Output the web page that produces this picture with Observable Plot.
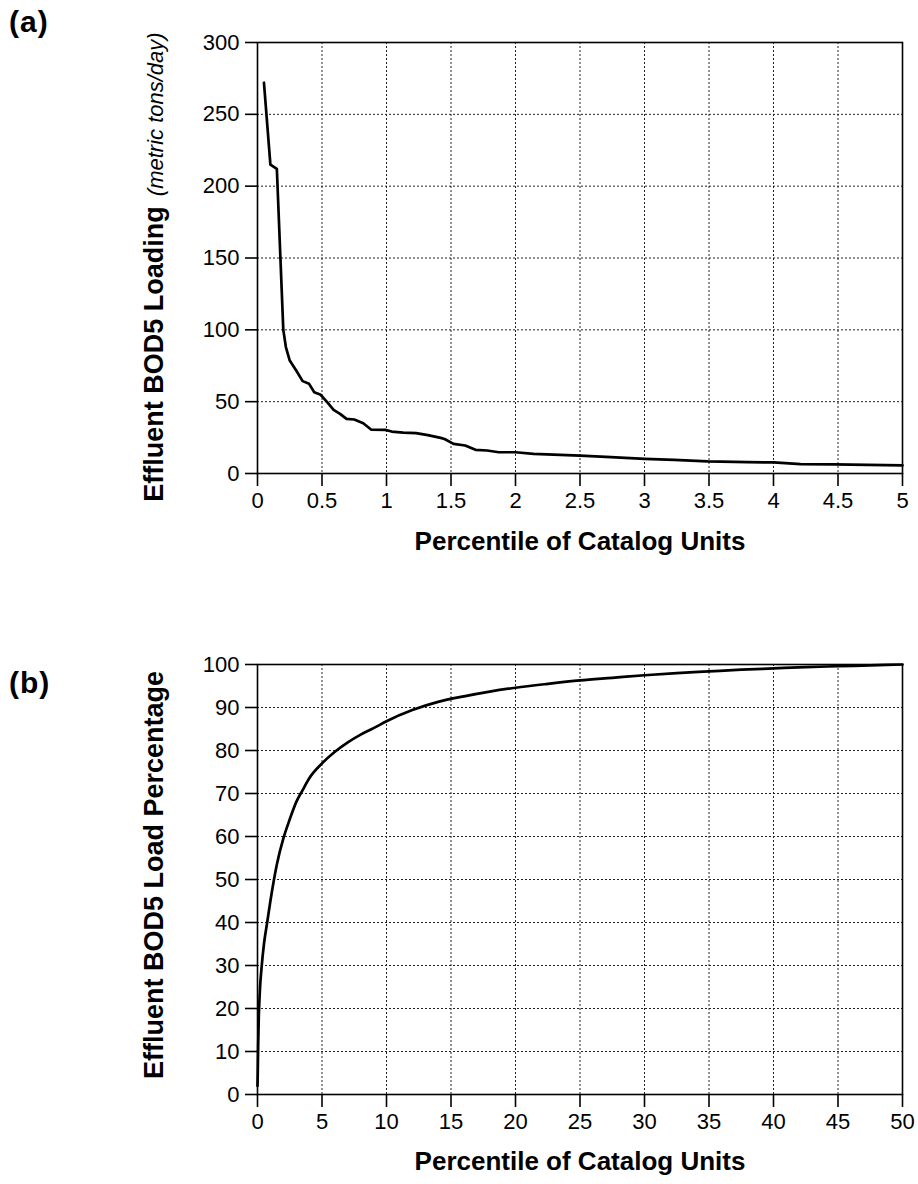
<!DOCTYPE html>
<html>
<head>
<meta charset="utf-8">
<script src="https://cdn.jsdelivr.net/npm/d3@7"></script>
<script src="https://cdn.jsdelivr.net/npm/@observablehq/plot@0.6"></script>
<style>
  html, body { margin: 0; padding: 0; background: #fff; }
  #wrap { width: 918px; height: 1184px; position: relative; overflow: hidden; }
  svg { display: block; }
</style>
</head>
<body>
<div id="wrap"></div>
<script>
// ---------- Panel (a): effluent BOD5 loading (metric tons/day) ----------
const aPercentile = [0.05, 0.1, 0.15, 0.2, 0.22, 0.25, 0.3, 0.35, 0.4, 0.44, 0.49, 0.54, 0.59, 0.64, 0.69, 0.75, 0.82, 0.88, 0.99, 1.04, 1.13, 1.23, 1.32, 1.42, 1.45, 1.52, 1.61, 1.69, 1.78, 1.87, 2.0, 2.14, 2.5, 2.74, 3.0, 3.23, 3.49, 3.8, 4.0, 4.21, 4.47, 4.73, 5.0];
const aLoading    = [272, 215, 212, 100, 88, 78.6, 71.7, 64.3, 62.4, 56.6, 54.8, 49.6, 44.3, 41.5, 38, 37.6, 35, 30.6, 30.4, 29.2, 28.5, 28.1, 26.7, 24.8, 24, 20.6, 19.5, 16.5, 16, 14.8, 14.8, 13.7, 12.5, 11.4, 10.2, 9.5, 8.4, 7.9, 7.7, 6.5, 6.3, 6.0, 5.6];
const aTicksX = [0, 0.5, 1, 1.5, 2, 2.5, 3, 3.5, 4, 4.5, 5];
const aTicksY = [0, 50, 100, 150, 200, 250, 300];

// ---------- Panel (b): cumulative effluent BOD5 load percentage ----------
const bPercentile = [0, 0.02, 0.05, 0.1, 0.15, 0.2, 0.3, 0.5, 0.75, 1, 1.5, 2, 2.5, 3, 3.5, 4, 5, 6, 7, 8, 9, 10, 12, 14, 16, 18, 20, 22.5, 25, 27.5, 30, 32.5, 35, 37.5, 40, 42.5, 45, 47.5, 50];
const bPercent    = [2, 5, 11, 18, 22, 25, 29, 35, 40, 45, 53.5, 59.5, 64, 68, 70.8, 73.5, 77, 79.7, 81.9, 83.7, 85.2, 86.8, 89.4, 91.3, 92.6, 93.7, 94.6, 95.5, 96.3, 96.9, 97.5, 98, 98.4, 98.8, 99.1, 99.4, 99.6, 99.8, 100];
const bTicksX = [0, 5, 10, 15, 20, 25, 30, 35, 40, 45, 50];
const bTicksY = [0, 10, 20, 30, 40, 50, 60, 70, 80, 90, 100];

const FONT = "'Liberation Sans', Arial, Helvetica, sans-serif";
const dataA = aPercentile.map((x, i) => ({x, y: aLoading[i]}));
const dataB = bPercentile.map((x, i) => ({x, y: bPercent[i]}));

function panel({data, xDomain, yDomain, xTicks, yTicks, height, marginTop, marginBottom, curve}) {
  return Plot.plot({
    width: 918,
    height,
    marginLeft: 257,
    marginRight: 16,
    marginTop,
    marginBottom,
    style: {fontFamily: FONT, fontSize: "22px", color: "black", background: "white", overflow: "visible"},
    x: {domain: xDomain, label: null},
    y: {domain: yDomain, label: null},
    marks: [
      Plot.gridX(xTicks, {stroke: "#222", strokeOpacity: 1, strokeWidth: 1, strokeDasharray: "2,2"}),
      Plot.gridY(yTicks, {stroke: "#222", strokeOpacity: 1, strokeWidth: 1, strokeDasharray: "2,2"}),
      Plot.frame({stroke: "black", strokeWidth: 1.6}),
      Plot.line(data, {x: "x", y: "y", stroke: "black", strokeWidth: 2.7, curve}),
      Plot.axisX(xTicks, {tickSize: 13, tickPadding: 6, strokeWidth: 1.6, fontSize: 22, tickFormat: d => String(d), label: null}),
      Plot.axisY(yTicks, {tickSize: 12, tickPadding: 6, strokeWidth: 1.6, fontSize: 22, tickFormat: d => String(d), label: null})
    ]
  });
}

const wrap = document.getElementById("wrap");

// Top panel: plot area y 42..473
const svgA = panel({data: dataA, xDomain: [0, 5], yDomain: [0, 300], xTicks: aTicksX, yTicks: aTicksY,
  height: 590, marginTop: 42, marginBottom: 117, curve: "linear"});
wrap.appendChild(svgA);

// Bottom panel: starts at page y 590, plot area y 664..1094
const svgB = panel({data: dataB, xDomain: [0, 50], yDomain: [0, 100], xTicks: bTicksX, yTicks: bTicksY,
  height: 594, marginTop: 74, marginBottom: 90, curve: "monotone-x"});
wrap.appendChild(svgB);

function addText(svg, {x, y, rotate = 0, anchor = "start", parts}) {
  const t = d3.select(svg).append("text")
    .attr("transform", `translate(${x},${y}) rotate(${rotate})`)
    .attr("text-anchor", anchor)
    .attr("font-family", FONT)
    .attr("fill", "black");
  parts.forEach(p => {
    const s = t.append("tspan").text(p.text)
      .attr("font-size", p.size)
      .attr("font-weight", p.weight || "normal")
      .attr("font-style", p.style || "normal");
    if (p.dx) s.attr("dx", p.dx);
    if (p.ls) s.attr("letter-spacing", p.ls);
  });
}

// Panel labels
addText(svgA, {x: 9, y: 32, parts: [{text: "(a)", size: 30, weight: "bold", ls: 1}]});
addText(svgB, {x: 9, y: 103, parts: [{text: "(b)", size: 30, weight: "bold", ls: 1}]});

// Y axis titles
addText(svgA, {x: 163, y: 267, rotate: -90, anchor: "middle", parts: [
  {text: "Effluent BOD5 Loading", size: 27, weight: "bold"},
  {text: "(metric tons/day)", size: 22, style: "italic", dx: 10}
]});
addText(svgB, {x: 163, y: 285, rotate: -90, anchor: "middle", parts: [
  {text: "Effluent BOD5 Load Percentage", size: 27, weight: "bold"}
]});

// X axis titles
addText(svgA, {x: 580, y: 550, anchor: "middle", parts: [{text: "Percentile of Catalog Units", size: 26, weight: "bold"}]});
addText(svgB, {x: 580, y: 580, anchor: "middle", parts: [{text: "Percentile of Catalog Units", size: 26, weight: "bold"}]});
</script>
</body>
</html>
